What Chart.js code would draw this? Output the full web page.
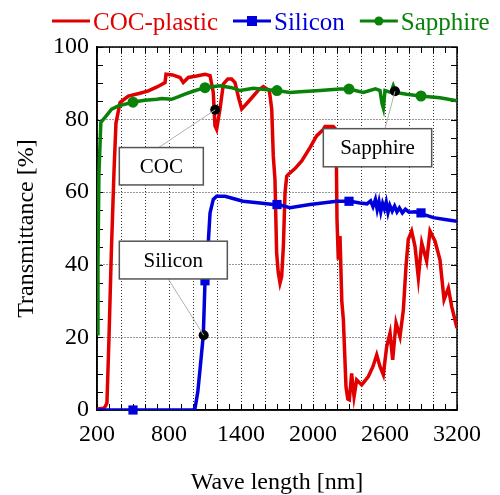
<!DOCTYPE html>
<html>
<head>
<meta charset="utf-8">
<script src="https://cdn.jsdelivr.net/npm/chart.js@4.4.0/dist/chart.umd.min.js"></script>
<style>
  html, body { margin: 0; padding: 0; background: #fff; }
</style>
</head>
<body>
<canvas id="chart" width="500" height="495"></canvas>
<script>
// series names shown in the legend
var seriesNames = ['COC-plastic', 'Silicon', 'Sapphire'];

// COC-plastic transmittance
var cocWl = [200, 255, 270, 283, 300, 320, 342, 358, 392, 461, 550, 628, 700, 767, 775, 830, 892, 919, 961, 1030,
  1100, 1142, 1169, 1183, 1197, 1210, 1225, 1253, 1290, 1322, 1350, 1380, 1406, 1450, 1503, 1550, 1586, 1636, 1656, 1669,
  1683, 1697, 1710, 1725, 1739, 1753, 1767, 1781, 1794, 1850, 1906, 1975, 2030, 2086, 2100, 2169, 2192, 2200, 2211, 2225,
  2240, 2253, 2275, 2290, 2303, 2322, 2342, 2364, 2406, 2461, 2500, 2531, 2558, 2586, 2614, 2642, 2664, 2692, 2725, 2753,
  2775, 2794, 2822, 2850, 2878, 2906, 2947, 2975, 3017, 3058, 3092, 3128, 3156, 3200];
var cocT = [0.3, 0.5, 1, 2, 20, 44, 66, 79, 84.7, 86.5, 87.2, 87.9, 89, 90.2, 92.5, 92.3, 91.6, 90.2, 91.6, 92,
  92.5, 92.1, 87.5, 78.3, 77.3, 80, 82.9, 89.8, 91.2, 91.2, 90.2, 86, 82.9, 84.5, 86.5, 88.3, 89.1, 88, 82.9, 70,
  63.5, 43.3, 38, 35, 36.8, 45, 59.9, 64.4, 64.9, 66.5, 68.6, 72.3, 75.5, 77.3, 78.1, 78.1, 77.3, 52.5, 41.4, 47.9,
  30, 24.9, 6.4, 3, 2.8, 10.1, 3.7, 8.3, 6.9, 9.2, 12, 15.2, 12, 9.7, 17.5, 21.2, 13.8, 24, 20.2, 27.6,
  39.6, 47, 49.3, 45.1, 36.4, 46, 41, 49.3, 46.5, 41.4, 30.4, 33.6, 28.5, 22.6];

// Silicon transmittance
var siWl = [200, 500, 1000, 1017, 1040, 1058, 1086, 1100, 1128, 1142, 1169, 1197, 1267, 1364, 1417, 1558, 1669, 1711, 1808, 1975,
  2197, 2308, 2392, 2450, 2480, 2500, 2520, 2535, 2550, 2565, 2580, 2595, 2610, 2625, 2640, 2660, 2680, 2700, 2720, 2745,
  2770, 2800, 2850, 2919, 3003, 3100, 3200];
var siT = [0, 0, 0, 0.5, 5, 11, 20.7, 35.4, 46.5, 54.3, 58, 58.9, 58.9, 58, 57.5, 57, 56.6, 56.6, 55.7, 56.6,
  57.5, 57.5, 57, 56.8, 57.6, 56, 58, 55.2, 57.4, 54.6, 56.9, 55.4, 57.3, 54.4, 56.4, 54.8, 56.2, 54.6, 55.7, 54.3,
  55.3, 54.5, 54.6, 53.9, 53, 52.5, 52];

// Sapphire transmittance
var sapWl = [200, 208, 216, 232, 267, 322, 378, 517, 600, 700, 739, 822, 880, 933, 1000, 1100, 1225, 1322, 1392, 1503,
  1600, 1697, 1808, 1892, 2058, 2225, 2300, 2419, 2520, 2558, 2575, 2586, 2600, 2650, 2669, 2690, 2781, 2892, 3058, 3200];
var sapT = [21, 40, 65, 79.2, 80.6, 82.9, 83.8, 84.9, 85.3, 85.6, 85.8, 85.6, 86.3, 87, 87.8, 88.8, 89.3, 88.8, 88, 88.6,
  88.3, 88, 87.5, 87.7, 88, 88.4, 88.4, 87.5, 88.5, 88, 84.5, 83.2, 88, 87.5, 89.3, 87.5, 87, 86.5, 86, 85.2];

// marker positions on the silicon and sapphire curves
var markerWl = [500, 1100, 1700, 2300, 2900];
var siMarkerT = [0, 35.6, 56.6, 57.5, 54.3];
var sapMarkerT = [84.8, 88.8, 88, 88.4, 86.5];

// annotation points (black dots) and their labels
var annotLabels = ['COC', 'Sapphire', 'Silicon'];
var annotWl = [1185, 2683, 1089];
var annotT = [82.7, 87.8, 20.6];

var xTickLabels = [200, 800, 1400, 2000, 2600, 3200];

function pairs(xs, ys) {
  var out = [];
  for (let i = 0; i < xs.length; i++) out.push({x: xs[i], y: ys[i]});
  return out;
}

var FONT = '"Liberation Serif", "Times New Roman", serif';
var red = '#e00000', blue = '#0000dd', green = '#0a820a';

// frame and inward ticks on all four sides
var framePlugin = {
  id: 'frame',
  beforeDatasetsDraw: function(chart) {
    let ctx = chart.ctx, a = chart.chartArea;
    let xs = chart.scales.x, ys = chart.scales.y;
    ctx.save();
    ctx.strokeStyle = '#000';
    ctx.lineWidth = 1;
    ctx.beginPath();
    for (let v = 200; v <= 3200; v += 100) {
      let px = Math.round(xs.getPixelForValue(v)) + 0.5;
      ctx.moveTo(px, a.bottom); ctx.lineTo(px, a.bottom - 6);
      ctx.moveTo(px, a.top); ctx.lineTo(px, a.top + 6);
    }
    for (let v = 0; v <= 100; v += 5) {
      let py = Math.round(ys.getPixelForValue(v)) + 0.5;
      ctx.moveTo(a.left, py); ctx.lineTo(a.left + 6, py);
      ctx.moveTo(a.right, py); ctx.lineTo(a.right - 6, py);
    }
    ctx.stroke();
    ctx.lineWidth = 1.5;
    ctx.strokeRect(a.left, a.top, a.right - a.left, a.bottom - a.top);
    ctx.restore();
  }
};

// label boxes with thin leader lines
var boxes = [
  {wl: [386, 1086], t: [62, 72.3], from: [714, 72.3]},
  {wl: [2086, 2989], t: [67, 77.5], from: [2600, 77.5]},
  {wl: [386, 1286], t: [36.1, 46.5], from: [794, 36.1]}
];
var annotPlugin = {
  id: 'annot',
  afterDatasetsDraw: function(chart) {
    let ctx = chart.ctx;
    let xs = chart.scales.x, ys = chart.scales.y;
    ctx.save();
    for (let i = 0; i < boxes.length; i++) {
      let b = boxes[i];
      ctx.strokeStyle = '#b0b0b0';
      ctx.lineWidth = 1;
      ctx.beginPath();
      ctx.moveTo(xs.getPixelForValue(b.from[0]), ys.getPixelForValue(b.from[1]));
      ctx.lineTo(xs.getPixelForValue(annotWl[i]), ys.getPixelForValue(annotT[i]));
      ctx.stroke();
      let x1 = xs.getPixelForValue(b.wl[0]), x2 = xs.getPixelForValue(b.wl[1]);
      let y1 = ys.getPixelForValue(b.t[1]), y2 = ys.getPixelForValue(b.t[0]);
      ctx.fillStyle = '#fff';
      ctx.fillRect(x1, y1, x2 - x1, y2 - y1);
      ctx.strokeStyle = '#555';
      ctx.lineWidth = 1.5;
      ctx.strokeRect(x1, y1, x2 - x1, y2 - y1);
      ctx.fillStyle = '#000';
      ctx.font = '21px ' + FONT;
      ctx.textAlign = 'center';
      ctx.textBaseline = 'middle';
      ctx.fillText(annotLabels[i], (x1 + x2) / 2, (y1 + y2) / 2 + 1);
    }
    ctx.restore();
  }
};

// legend: line with marker, then coloured text
var legendPlugin = {
  id: 'lineLegend',
  afterDraw: function(chart) {
    let ctx = chart.ctx;
    let colors = [red, blue, green];
    let marks = [null, 'rect', 'circle'];
    let x = 52, y = 21;
    ctx.save();
    ctx.font = '25px ' + FONT;
    ctx.textBaseline = 'middle';
    for (let i = 0; i < seriesNames.length; i++) {
      ctx.strokeStyle = colors[i];
      ctx.fillStyle = colors[i];
      ctx.lineWidth = 3;
      ctx.beginPath(); ctx.moveTo(x, y); ctx.lineTo(x + 38, y); ctx.stroke();
      if (marks[i] == 'rect') ctx.fillRect(x + 14, y - 5, 10, 10);
      if (marks[i] == 'circle') { ctx.beginPath(); ctx.arc(x + 19, y, 4.5, 0, Math.PI * 2); ctx.fill(); }
      ctx.fillText(seriesNames[i], x + 41, y + 2);
      x += 41 + ctx.measureText(seriesNames[i]).width + 15;
    }
    ctx.restore();
  }
};

Chart.defaults.font.family = FONT;
Chart.defaults.color = '#000';

var ctx = document.getElementById('chart').getContext('2d');
var chart = new Chart(ctx, {
  type: 'line',
  data: {
    datasets: [
      {label: 'annot', data: pairs(annotWl, annotT), showLine: false, pointRadius: 5, pointBackgroundColor: '#000', pointBorderWidth: 0, clip: false, order: 0},
      {label: 'Sapphire markers', data: pairs(markerWl, sapMarkerT), showLine: false, pointStyle: 'circle', pointRadius: 5.5, pointBackgroundColor: green, pointBorderWidth: 0, clip: false, order: 1},
      {label: seriesNames[2], data: pairs(sapWl, sapT), borderColor: green, borderWidth: 3.5, pointRadius: 0, tension: 0, order: 2},
      {label: 'Silicon markers', data: pairs(markerWl, siMarkerT), showLine: false, pointStyle: 'rect', pointRadius: 6.5, pointBackgroundColor: blue, pointBorderWidth: 0, clip: false, order: 3},
      {label: seriesNames[1], data: pairs(siWl, siT), borderColor: blue, borderWidth: 3.5, pointRadius: 0, tension: 0, order: 4},
      {label: seriesNames[0], data: pairs(cocWl, cocT), borderColor: red, borderWidth: 3.5, pointRadius: 0, tension: 0, order: 5}
    ]
  },
  options: {
    responsive: false,
    devicePixelRatio: 1,
    animation: false,
    layout: {padding: {top: 47, right: 43, left: 0, bottom: 0}},
    plugins: {legend: {display: false}, tooltip: {enabled: false}},
    scales: {
      x: {
        type: 'linear', min: 200, max: 3200,
        afterFit: function(s) { s.height = 85; },
        ticks: {
          stepSize: 200, autoSkip: false, maxRotation: 0, padding: 10,
          font: {size: 24},
          callback: function(v) { return xTickLabels.indexOf(v) >= 0 ? String(v) : ''; }
        },
        grid: {color: '#333', lineWidth: 1, drawTicks: false},
        border: {display: true, color: '#000', width: 1.5, dash: [1, 2]},
        title: {display: true, text: 'Wave length [nm]', font: {size: 24, lineHeight: 1}, padding: {top: 0, bottom: 0}}
      },
      y: {
        min: 0, max: 100,
        afterFit: function(s) { s.width = 97; },
        ticks: {stepSize: 20, padding: 8, font: {size: 24}},
        grid: {color: '#333', lineWidth: 1, drawTicks: false},
        border: {display: true, color: '#000', width: 1.5, dash: [1, 2]},
        title: {display: true, text: 'Transmittance [%]', font: {size: 24, lineHeight: 1}, padding: {top: 15, bottom: 0}}
      }
    }
  },
  plugins: [framePlugin, annotPlugin, legendPlugin]
});
</script>
</body>
</html>
